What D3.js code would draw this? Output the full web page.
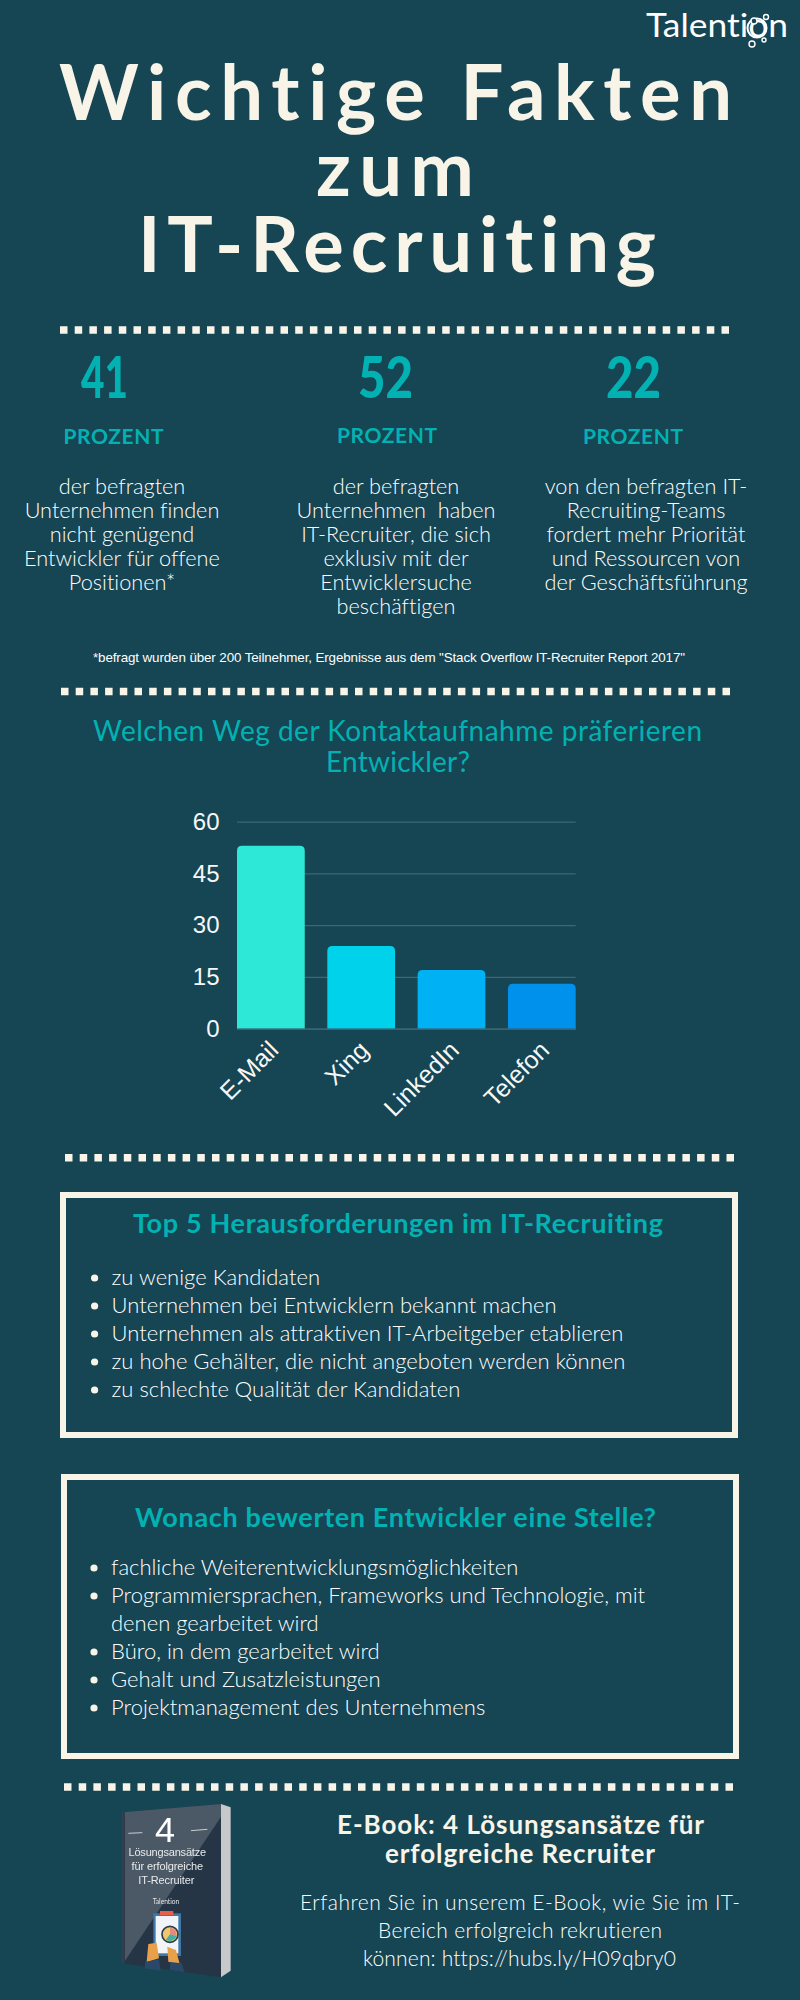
<!DOCTYPE html>
<html>
<head>
<meta charset="utf-8">
<script src="https://cdn.jsdelivr.net/npm/d3@7"></script>
<style>
  html, body { margin: 0; padding: 0; background: #164554; }
  svg { display: block; }
  text { font-family: Lato, sans-serif; font-variant-ligatures: none; }
</style>
</head>
<body>
<div id="chart"></div>
<script>
// chart data
var categories = ["E-Mail", "Xing", "LinkedIn", "Telefon"];
var shares = [53, 24, 17, 13];
var barColors = ["#2de8d7", "#00d2ec", "#00b2f4", "#0091ec"];
var yTicks = [0, 15, 30, 45, 60];

// texts
var titleLines = ["Wichtige Fakten", "zum", "IT-Recruiting"];
var statNumbers = ["41", "52", "22"];
var statTexts = [
	["der befragten", "Unternehmen finden", "nicht genügend", "Entwickler für offene", "Positionen*"],
	["der befragten", "Unternehmen  haben", "IT-Recruiter, die sich", "exklusiv mit der", "Entwicklersuche", "beschäftigen"],
	["von den befragten IT-", "Recruiting-Teams", "fordert mehr Priorität", "und Ressourcen von", "der Geschäftsführung"]
];
var challenges = [
	["zu wenige Kandidaten"],
	["Unternehmen bei Entwicklern bekannt machen"],
	["Unternehmen als attraktiven IT-Arbeitgeber etablieren"],
	["zu hohe Gehälter, die nicht angeboten werden können"],
	["zu schlechte Qualität der Kandidaten"]
];
var criteria = [
	["fachliche Weiterentwicklungsmöglichkeiten"],
	["Programmiersprachen, Frameworks und Technologie, mit", "denen gearbeitet wird"],
	["Büro, in dem gearbeitet wird"],
	["Gehalt und Zusatzleistungen"],
	["Projektmanagement des Unternehmens"]
];
var ebookHead = ["E-Book: 4 Lösungsansätze für", "erfolgreiche Recruiter"];
var ebookBody = ["Erfahren Sie in unserem E-Book, wie Sie im IT-", "Bereich erfolgreich rekrutieren", "können: https://hubs.ly/H09qbry0"];

var cream = "#f8f4e8", teal = "#02b2b2", bg = "#164554";

var svg = d3.select("#chart").append("svg")
	.attr("width", 800)
	.attr("height", 2000)
	.style("background", bg);

var blur = svg.append("defs").append("filter").attr("id", "soft");
blur.append("feGaussianBlur").attr("stdDeviation", 1.4);

// text with an optional forced width
function label(parent, str, x, y, size, opts) {
	opts = opts || {};
	var t = parent.append("text")
		.attr("x", x)
		.attr("y", y)
		.attr("font-size", size)
		.attr("font-weight", opts.weight || 400)
		.attr("text-anchor", opts.anchor || "middle")
		.attr("fill", opts.fill || cream)
		.text(str);
	if (opts.width) t.attr("textLength", opts.width).attr("lengthAdjust", opts.adjust || "spacing");
	if (opts.family) t.style("font-family", opts.family);
	t.style("white-space", "pre");
	return t;
}

function dots(x1, x2, y) {
	svg.append("line")
		.attr("x1", x1).attr("x2", x2)
		.attr("y1", y).attr("y2", y)
		.attr("stroke", cream)
		.attr("stroke-width", 7.5)
		.attr("stroke-dasharray", "7.5 7.2");
}

// logo
var logo = svg.append("g");
label(logo, "Talention", 646, 37, 33, {anchor: "start", width: 142, fill: "#ffffff", adjust: "spacingAndGlyphs"});
logo.append("circle").attr("cx", 757).attr("cy", 28).attr("r", 9.5)
	.attr("fill", "none").attr("stroke", "#ffffff").attr("stroke-width", 2);
[[754, 21, 3], [766, 17, 2.5], [752, 44, 3], [764, 40, 2]].forEach(function (c) {
	logo.append("circle").attr("cx", c[0]).attr("cy", c[1]).attr("r", c[2])
		.attr("fill", bg).attr("stroke", "#ffffff").attr("stroke-width", 1.4);
});

// heading
label(svg, titleLines[0], 395.5, 120, 76, {weight: 700, width: 673});
label(svg, titleLines[1], 395, 196, 76, {weight: 700, width: 158});
label(svg, titleLines[2], 397, 272, 76, {weight: 700, width: 518});
dots(60, 731, 330);

// three facts
var numberX = [104.5, 385.5, 633.5];
var numberW = [47, 55, 55];
var prozentX = [113.5, 387, 633];
var prozentY = [444, 443, 444];
var bodyX = [122, 396, 646];
statNumbers.forEach(function (n, i) {
	label(svg, n, numberX[i], 398, 57, {weight: 900, fill: teal, width: numberW[i], adjust: "spacingAndGlyphs"});
	label(svg, "PROZENT", prozentX[i], prozentY[i], 21, {weight: 700, fill: teal, width: 100});
	statTexts[i].forEach(function (line, j) {
		label(svg, line, bodyX[i], 494 + j * 24, 21.7, {weight: 300, fill: "#ffffff"});
	});
});
label(svg, "*befragt wurden über 200 Teilnehmer, Ergebnisse aus dem \"Stack Overflow IT-Recruiter Report 2017\"", 389, 662, 13.4, {family: "'Liberation Sans'", width: 592, fill: "#ffffff"});
dots(61, 732, 691.5);

// bar chart
label(svg, "Welchen Weg der Kontaktaufnahme präferieren", 397.5, 741, 28, {fill: teal, width: 609});
label(svg, "Entwickler?", 398, 772, 28, {fill: teal, width: 144});

var x = d3.scaleBand()
	.domain(categories)
	.range([237, 575.7])
	.paddingInner(0.25);
var y = d3.scaleLinear()
	.domain([0, 60])
	.range([1028.7, 821.7]);

var yAxis = svg.append("g")
	.attr("transform", "translate(237,0)")
	.call(d3.axisLeft(y).tickValues(yTicks).tickSize(-338.7).tickPadding(17.5));
yAxis.select(".domain").remove();
yAxis.selectAll(".tick line").attr("stroke", "#3d6772").attr("stroke-width", 1.2);
yAxis.selectAll(".tick text")
	.attr("fill", "#f7f7f7")
	.style("font-family", "'Liberation Sans'")
	.style("font-size", "24px");

function roundedTop(d) {
	var x0 = x(d.cat), w = x.bandwidth(), top = y(d.val), base = y(0), r = 5;
	return "M" + x0 + "," + base + "V" + (top + r) + "Q" + x0 + "," + top + " " + (x0 + r) + "," + top
		+ "H" + (x0 + w - r) + "Q" + (x0 + w) + "," + top + " " + (x0 + w) + "," + (top + r) + "V" + base + "Z";
}
svg.selectAll(".bar")
	.data(categories.map(function (c, i) { return {cat: c, val: shares[i], color: barColors[i]}; }))
	.enter().append("path")
	.attr("class", "bar")
	.attr("d", roundedTop)
	.attr("fill", function (d) { return d.color; });

var xAxis = svg.append("g")
	.attr("transform", "translate(0,1028.7)")
	.call(d3.axisBottom(x).tickSize(0));
xAxis.select(".domain").attr("stroke", "#3d6772").attr("stroke-width", 1.2);
xAxis.selectAll(".tick text")
	.attr("fill", "#f7f7f7")
	.attr("text-anchor", "end")
	.attr("dy", null)
	.attr("y", 0)
	.attr("transform", "translate(9,23) rotate(-45)")
	.style("font-family", "'Liberation Sans'")
	.style("font-size", "24.8px");

dots(65, 736, 1157.7);

// boxes with lists
function box(x0, y0, x1, y1, head, headX, headY, headW, items, bulletX, textX, firstY) {
	svg.append("rect")
		.attr("x", x0 + 3).attr("y", y0 + 3)
		.attr("width", x1 - x0 - 6).attr("height", y1 - y0 - 6)
		.attr("fill", "none")
		.attr("stroke", cream)
		.attr("stroke-width", 6);
	label(svg, head, headX, headY, 27, {weight: 700, fill: teal, width: headW});
	var row = 0;
	items.forEach(function (lines) {
		svg.append("circle")
			.attr("cx", bulletX)
			.attr("cy", firstY + row * 28 - 7)
			.attr("r", 3.6)
			.attr("fill", cream);
		lines.forEach(function (line) {
			label(svg, line, textX, firstY + row * 28, 22, {anchor: "start", weight: 300, fill: "#ffffff"});
			row++;
		});
	});
}
box(60, 1192, 738, 1438, "Top 5 Herausforderungen im IT-Recruiting", 398, 1233, 530, challenges, 94.6, 111.6, 1285);
box(61, 1474, 739, 1759, "Wonach bewerten Entwickler eine Stelle?", 395.5, 1527, 521, criteria, 94, 111, 1575);
dots(64, 735, 1787);

// e-book cover, drawn in crop units
var book = svg.append("g").attr("transform", "translate(90,1780) scale(0.3333)").attr("filter", "url(#soft)");
function poly(pts, fill) {
	book.append("polygon").attr("points", pts).attr("fill", fill);
}
poly("393,72 422,82 422,572 393,592", "#c6c8c9");
poly("393,72 393,592 388,590 388,72", "#8d9399");
poly("97,97 393,72 393,592 97,550", "#263545");
poly("97,97 393,72 393,110 100,550 97,550", "#4b5966");
poly("97,97 105,96 105,551 97,550", "#2f3d4b");
label(book, "4", 225, 185, 108, {family: "'Liberation Sans'", fill: "#ffffff"});
book.append("line").attr("x1", 115).attr("x2", 157).attr("y1", 160).attr("y2", 158).attr("stroke", "#c9ced2").attr("stroke-width", 3);
book.append("line").attr("x1", 303).attr("x2", 352).attr("y1", 152).attr("y2", 148).attr("stroke", "#c9ced2").attr("stroke-width", 3);
label(book, "Lösungsansätze", 232, 227, 33, {family: "'Liberation Sans'", fill: "#e8ebed", width: 233});
label(book, "für erfolgreiche", 232, 270, 33, {family: "'Liberation Sans'", fill: "#e8ebed", width: 215});
label(book, "IT-Recruiter", 229, 313, 33, {family: "'Liberation Sans'", fill: "#e8ebed", width: 168});
label(book, "Talention", 228, 373, 20, {fill: "#dfe3e6"});
book.append("rect").attr("x", 190).attr("y", 400).attr("width", 83).attr("height", 128).attr("fill", "#3f78a8");
book.append("rect").attr("x", 197).attr("y", 408).attr("width", 68).attr("height", 112).attr("fill", "#f2f5f7");
book.append("rect").attr("x", 210).attr("y", 393).attr("width", 40).attr("height", 12).attr("fill", "#e8604c");
book.append("circle").attr("cx", 240).attr("cy", 463).attr("r", 24).attr("fill", "#f1c76b").attr("stroke", "#2c3e50").attr("stroke-width", 5);
book.append("path").attr("d", "M240,463V443A20,20 0 0 1 259,468Z").attr("fill", "#e58a7e");
book.append("path").attr("d", "M240,463L259,468A20,20 0 0 1 228,479Z").attr("fill", "#3fb0a8");
poly("175,492 200,488 207,535 170,546", "#e8a04c");
poly("232,500 258,510 270,555 235,545", "#e8a04c");
poly("165,546 207,538 212,572 165,565", "#2a4a6a");
poly("240,546 275,550 283,576 240,570", "#2a4a6a");

// e-book text
label(svg, ebookHead[0], 520.5, 1834, 26, {weight: 700, width: 367});
label(svg, ebookHead[1], 520, 1863, 26, {weight: 700, width: 270});
label(svg, ebookBody[0], 520, 1910, 21, {width: 440, weight: 300, fill: "#ffffff"});
label(svg, ebookBody[1], 520, 1938, 21, {width: 284, weight: 300, fill: "#ffffff"});
label(svg, ebookBody[2], 519.5, 1966, 21, {width: 313, weight: 300, fill: "#ffffff"});
</script>
</body>
</html>
